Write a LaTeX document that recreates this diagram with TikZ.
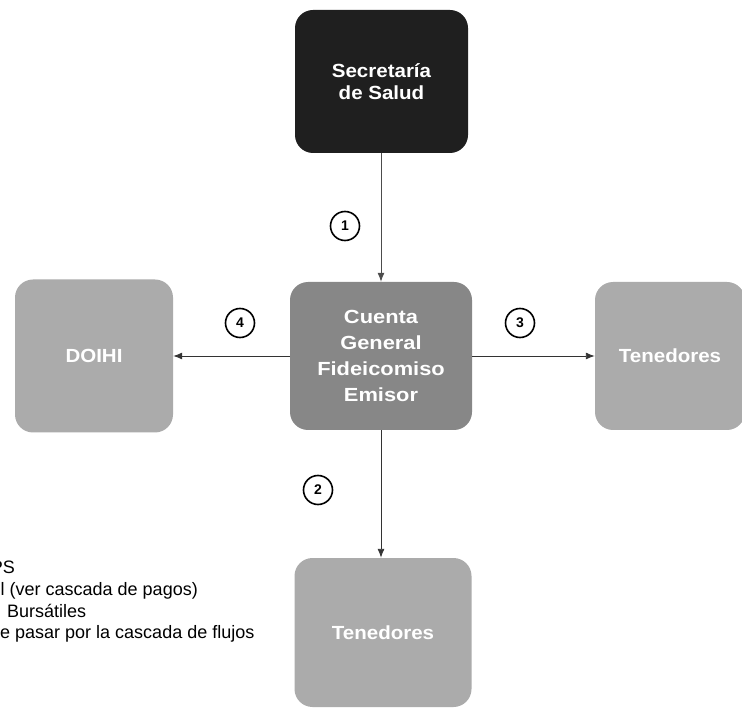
\documentclass[tikz,border=0pt]{standalone}
\usepackage{fontspec}
\setmainfont{Liberation Sans}
\usetikzlibrary{arrows.meta}
\tikzset{
  box/.style={rounded corners=18pt, inner sep=0pt, align=center, text=white,
    font=\fontsize{19}{22}\selectfont\bfseries\addfontfeature{FakeStretch=1.08}},
  darkbox/.style={box, fill=black!88},
  midbox/.style={box, fill=black!47,
    font=\fontsize{19}{26}\selectfont\bfseries\addfontfeature{FakeStretch=1.15}},
  lightbox/.style={box, fill=black!33},
  conn/.style={draw=black!80, line width=0.9pt, -{Latex[length=9pt,width=7pt]}},
  num/.style={circle, draw=black, line width=1.6pt, fill=white, minimum size=29pt,
    inner sep=0pt, font=\fontsize{14}{14}\selectfont\bfseries},
  legend/.style={anchor=base west, inner sep=0pt, font=\fontsize{18}{18}\selectfont}
}
\begin{document}
\begin{tikzpicture}[x=1pt,y=-1pt]
\useasboundingbox (0,0) rectangle (742,708);
\clip (0,0) rectangle (742,708);
% boxes
\node[darkbox, minimum width=173pt, minimum height=143pt] (sec) at (381.5,81.5) {Secretaría\\de Salud};
\node[midbox, minimum width=182pt, minimum height=148pt] (cen) at (381,356) {Cuenta\\General\\Fideicomiso\\Emisor};
\node[lightbox, minimum width=158pt, minimum height=153pt] (doi) at (94,356) {DOIHI};
\node[lightbox, minimum width=150pt, minimum height=148pt] (ten3) at (670,356) {Tenedores};
\node[lightbox, minimum width=177pt, minimum height=149pt] (ten2) at (383,632.5) {Tenedores};
% connectors
\draw[conn, draw=black!70] (sec.south -| cen.north) -- (cen.north);
\draw[conn] (cen.west) -- (doi.east);
\draw[conn] (cen.east) -- (ten3.west);
\draw[conn] (cen.south) -- (cen.south |- ten2.north);
% numbers
\node[num] (n1) at (345,226) {1};
\node[num] (n2) at (318,490) {2};
\node[num] (n3) at (520,323) {3};
\node[num] (n4) at (240,323) {4};
% legend
\node[legend, anchor=base east] (l1) at (15,573) {PS};
\node[legend] (l2) at (0.5,595) {l (ver cascada de pagos)};
\node[legend] (l3) at (7,617) {Bursátiles};
\node[legend] (l4) at (0,638) {e pasar por la cascada de flujos};
\end{tikzpicture}
\end{document}
